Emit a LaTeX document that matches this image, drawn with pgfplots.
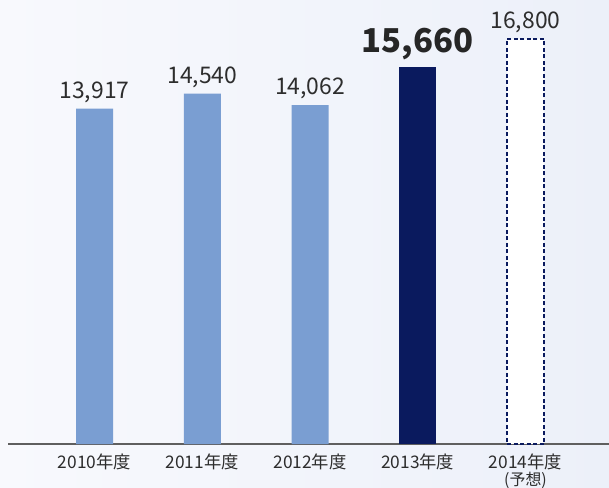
\documentclass[border=0pt]{standalone}
\usepackage{pgfplots}
\pgfplotsset{compat=1.18}
\usepackage{fontspec}
\setmainfont{Noto Sans CJK JP}
\definecolor{lightbar}{RGB}{122,158,210}
\definecolor{navy}{RGB}{10,26,94}
\definecolor{txt}{RGB}{45,45,45}
\definecolor{bgl}{RGB}{248,249,253}
\definecolor{bgr}{RGB}{236,240,249}
\definecolor{axl}{RGB}{95,95,95}
\begin{document}
\begin{tikzpicture}
\shade[left color=bgl, right color=bgr] (-8bp,-44bp) rectangle (601bp,444bp);
\begin{axis}[
  at={(0,0)}, anchor=south west,
  scale only axis, width=601bp, height=444bp,
  xmin=-0.803, xmax=4.775, ymin=0, ymax=18423,
  axis x line*=bottom, axis y line=none,
  x axis line style={draw=axl, line width=1.2bp},
  xtick={0,1,2,3,4},
  xticklabels={2010年度,2011年度,2012年度,2013年度,{2014年度\\[-2pt]{\fontsize{16}{16}\selectfont (予想)}}},
  xticklabel style={align=center, font=\fontsize{17.4}{19}\selectfont, text=txt, yshift=-6.5bp},
  major tick length=0pt,
  ytick=\empty,
  ybar, bar width=37bp, bar shift=0pt,
  nodes near coords,
  /pgf/number format/assume math mode=true,
  /pgf/number format/1000 sep={,},
  nodes near coords style={text=txt, inner sep=0pt, anchor=south, yshift=6bp, font=\fontsize{23}{23}\selectfont},
  clip=false,
]
\addplot[fill=lightbar, draw=none] coordinates {(0,13917) (1,14540) (2,14062)};
\addplot[fill=navy, draw=none, nodes near coords style={font=\bfseries\fontsize{33}{33}\selectfont, text=black!85}] coordinates {(3,15660)};
\addplot[fill=white, draw=navy, line width=1.3bp, dash pattern=on 4bp off 2.5bp] coordinates {(4,16800)};
\end{axis}
\pgfresetboundingbox
\path[use as bounding box] (-8bp,-44bp) rectangle (601bp,444bp);
\end{tikzpicture}
\end{document}
